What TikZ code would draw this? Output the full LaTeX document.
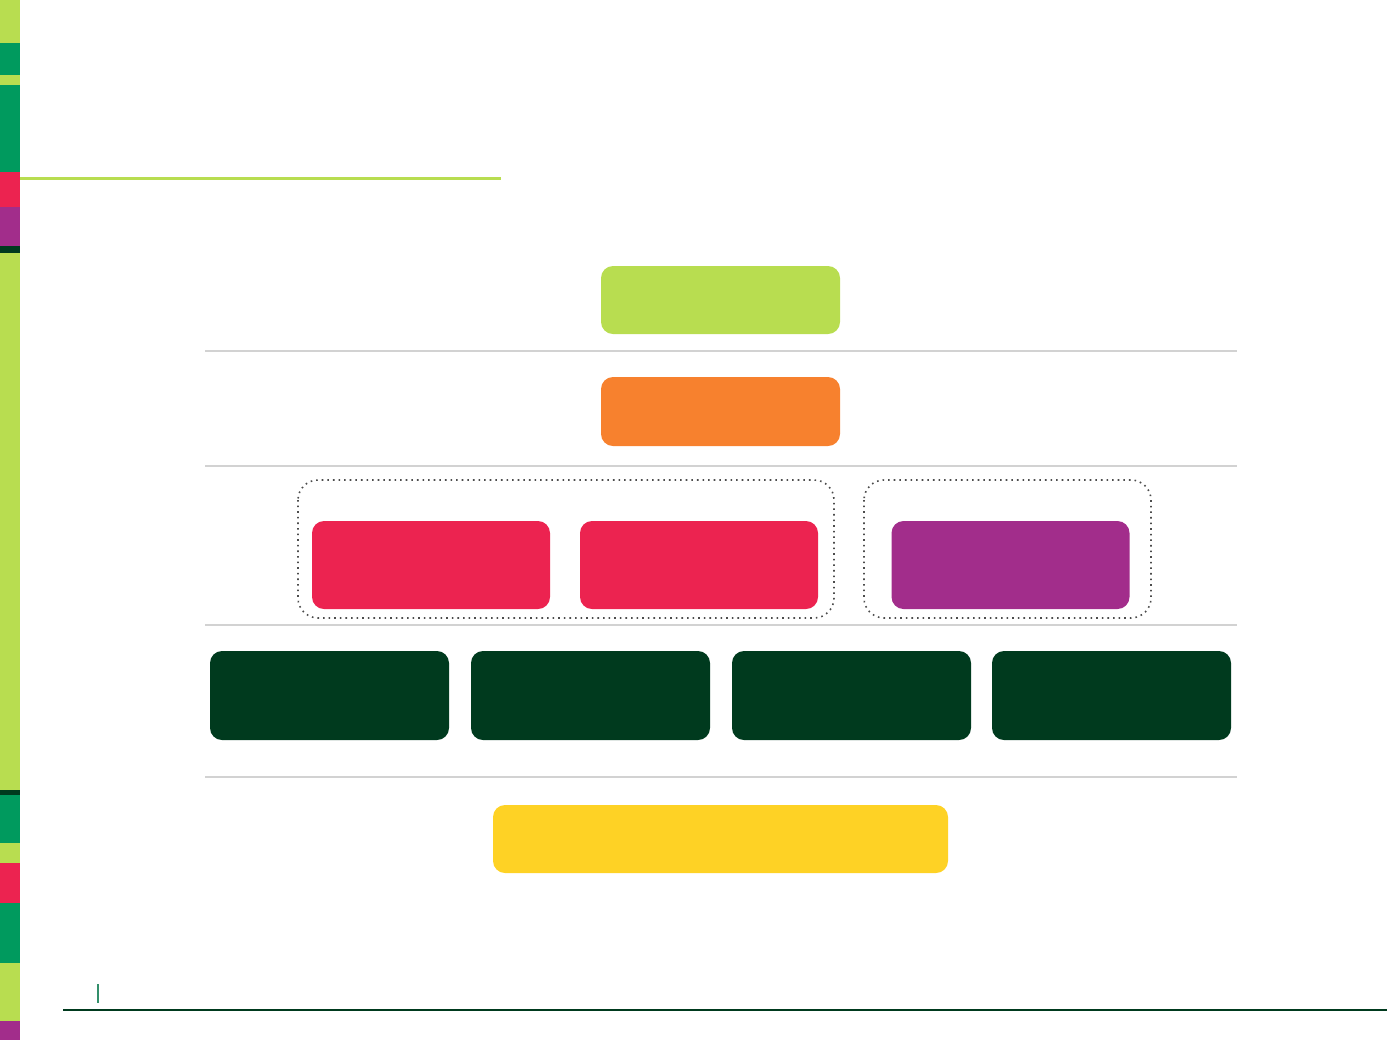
\documentclass[tikz,border=0pt]{standalone}
\usepackage{tikz}

\definecolor{lime}{HTML}{B8DD50}
\definecolor{leaf}{HTML}{009A5E}
\definecolor{rose}{HTML}{EC2350}
\definecolor{plum}{HTML}{A22D8B}
\definecolor{forest}{HTML}{003A1E}
\definecolor{tangerine}{HTML}{F7812E}
\definecolor{sun}{HTML}{FED225}
\definecolor{rule}{HTML}{D2D2D2}

\tikzset{
    block/.style={rounded corners=6pt, inner sep=0pt, draw=none},
    group/.style={draw=black!70, dotted, thick, rounded corners=10pt}
}

\begin{document}
\begin{tikzpicture}[x=0.5pt, y=-0.5pt]

            \useasboundingbox (0,0) rectangle (1387,1040);

            % Left colour strip
            \foreach \ya/\yb/\col in {
            0/43/lime, 43/75/leaf, 75/85/lime, 85/172/leaf,
            172/207/rose, 207/246/plum, 246/253/forest, 253/790/lime,
            790/795/forest, 795/843/leaf, 843/863/lime, 863/903/rose,
            903/963/leaf, 963/1021/lime, 1021/1040/plum} {
                \fill [\col] (0,\ya) rectangle (20,\yb);
            }

            % Title rule and footer
            \draw [lime, line width=1.5pt] (20,178) -- (501,178);
            \draw [forest, line width=1.2pt] (63,1010) -- (1387,1010);
            \draw [leaf!60!gray, line width=0.6pt] (98,984) -- (98,1003);

            % Row separators
            \foreach \y in {351, 466, 625, 777} {
                \draw [rule, line width=0.8pt] (205,\y) -- (1237,\y);
            }

            % Dotted groups
            \draw [group] (298,480) rectangle (834,618);
            \draw [group] (864,480) rectangle (1151,618);

            % Top rows
            \node [block, fill=lime, minimum width=119.5pt, minimum height=34pt] (goal) at (720.5,300) {};
            \node [block, fill=tangerine, minimum width=119.5pt, minimum height=34.5pt] (lead) at (720.5,411.5) {};

            % Middle row
            \foreach \x/\col/\name in {431/rose/left, 699/rose/mid, 1010.5/plum/right} {
                \node [block, fill=\col, minimum width=119pt, minimum height=44pt] (\name) at (\x,565) {};
            }

            % Dark row
            \foreach \x [count=\i] in {329.5, 590.5, 851.5, 1111.5} {
                \node [block, fill=forest, minimum width=119.5pt, minimum height=44.5pt] (base\i) at (\x,695.5) {};
            }

            % Bottom bar
            \node [block, fill=sun, minimum width=227.5pt, minimum height=34pt] (ground) at (720.5,839) {};

\end{tikzpicture}
\end{document}
